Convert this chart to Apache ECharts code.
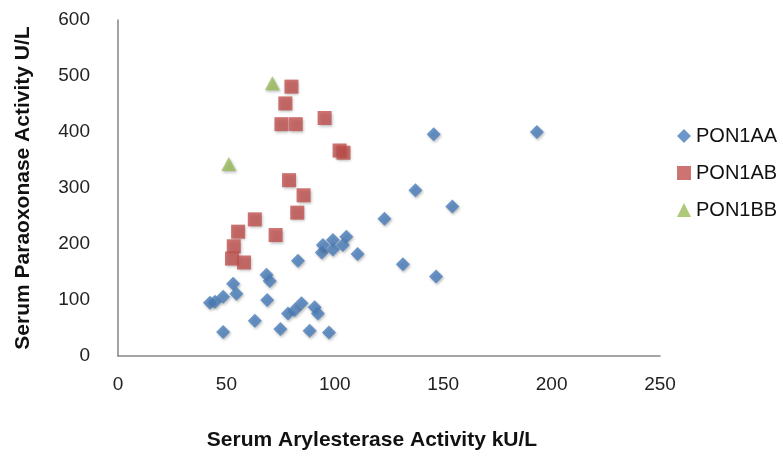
<!DOCTYPE html>
<html>
<head>
<meta charset="utf-8">
<script src="https://cdn.jsdelivr.net/npm/echarts@6/dist/echarts.min.js"></script>
<style>html,body{margin:0;padding:0;background:#fff}#c{width:783px;height:456px}</style>
</head>
<body>
<div id="c"></div>
<script>
const seriesNames = ['PON1AA', 'PON1AB', 'PON1BB'];
const pon1AA = [
  [42.4, 95], [44.7, 97], [48.5, 106], [53.1, 129], [54.6, 111], [48.5, 43],
  [63.1, 63], [68.5, 145], [70, 134], [68.8, 100], [74.9, 48], [78.4, 76],
  [81.5, 82], [84.6, 94], [83, 170], [90.7, 87], [92.2, 76], [88.4, 45],
  [97.3, 42], [94, 185], [94.5, 198], [99.1, 207], [99.1, 190], [105.3, 213],
  [103.7, 198], [110.5, 182], [122.9, 245], [131.4, 164], [137.2, 296],
  [145.6, 396], [146.7, 142], [154.2, 267], [193.2, 400]
];
const pon1AB = [
  [80, 481], [77.2, 451], [75.4, 414], [82, 414], [95.3, 425], [102.2, 367],
  [104, 363], [78.9, 314], [85.6, 287], [82.7, 256], [63.1, 244], [72.7, 216],
  [55.4, 222], [53.4, 196], [52.6, 174], [58.1, 167]
];
const pon1BB = [[71.2, 487], [51.1, 343]];
const xTicks = { min: 0, max: 250, interval: 50 };
const yTicks = { min: 0, max: 600, interval: 100 };
const colors = ['#4A7EBB', '#C0504D', '#9BBB59'];

const shadow = { shadowBlur: 3, shadowColor: 'rgba(0,0,0,0.35)', shadowOffsetX: 1, shadowOffsetY: 1.5 };
const font = 'Liberation Sans';
const chart = echarts.init(document.getElementById('c'), null, { renderer: 'canvas' });
chart.setOption({
  animation: false,
  backgroundColor: '#fff',
  grid: { left: 118, top: 20, width: 542, height: 336, containLabel: false },
  legend: {
    orient: 'vertical', left: 672, top: 121,
    itemWidth: 14, itemHeight: 14, itemGap: 17,
    textStyle: { fontFamily: font, fontSize: 20, color: '#111' },
    data: seriesNames
  },
  xAxis: {
    type: 'value', min: xTicks.min, max: xTicks.max, interval: xTicks.interval,
    name: 'Serum Arylesterase Activity kU/L', nameLocation: 'middle', nameGap: 74,
    nameTextStyle: { fontFamily: font, fontSize: 21, fontWeight: 'bold', color: '#111', padding: [0, 34, 0, 0] },
    axisLine: { show: true, lineStyle: { color: '#868686', width: 1.5 } },
    axisTick: { show: false }, splitLine: { show: false },
    axisLabel: { fontFamily: font, fontSize: 19, color: '#222', margin: 19 }
  },
  yAxis: {
    type: 'value', min: yTicks.min, max: yTicks.max, interval: yTicks.interval,
    name: 'Serum Paraoxonase Activity U/L', nameLocation: 'middle', nameGap: 84,
    nameTextStyle: { fontFamily: font, fontSize: 21, fontWeight: 'bold', color: '#111' },
    axisLine: { show: true, lineStyle: { color: '#868686', width: 1.5 } },
    axisTick: { show: false }, splitLine: { show: false },
    axisLabel: { fontFamily: font, fontSize: 19, color: '#222', margin: 28 }
  },
  series: [
    { name: seriesNames[0], type: 'scatter', symbol: 'diamond', symbolSize: 14, data: pon1AA,
      itemStyle: Object.assign({ color: colors[0] }, shadow) },
    { name: seriesNames[1], type: 'scatter', symbol: 'rect', symbolSize: 14, data: pon1AB,
      itemStyle: Object.assign({ color: colors[1] }, shadow) },
    { name: seriesNames[2], type: 'scatter', symbol: 'triangle', symbolSize: [15, 14], data: pon1BB,
      itemStyle: Object.assign({ color: colors[2] }, shadow) }
  ]
});
</script>
</body>
</html>
